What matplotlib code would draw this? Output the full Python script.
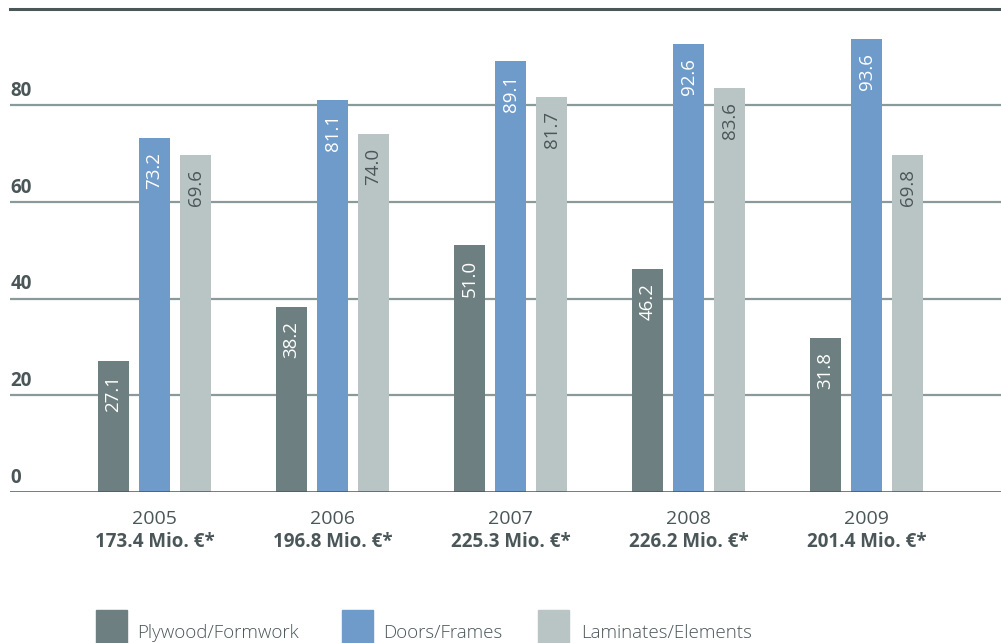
import matplotlib.pyplot as plt
from matplotlib.patches import Rectangle

years = ["2005", "2006", "2007", "2008", "2009"]
totals = ["173.4 Mio. €*", "196.8 Mio. €*", "225.3 Mio. €*", "226.2 Mio. €*", "201.4 Mio. €*"]
plywood = [27.1, 38.2, 51.0, 46.2, 31.8]
doors = [73.2, 81.1, 89.1, 92.6, 93.6]
laminates = [69.6, 74.0, 81.7, 83.6, 69.8]
series_names = ["Plywood/Formwork", "Doors/Frames", "Laminates/Elements"]
yticks = [0, 20, 40, 60, 80]

colors = ["#6d7f80", "#6e9bca", "#b9c5c5"]
label_colors = ["white", "white", "#4a5658"]
dark = "#4a5658"
grid = "#8a9a9a"

plt.rcParams['font.family'] = ['Open Sans', 'DejaVu Sans']

W, H = 1001, 643
fig = plt.figure(figsize=(W / 100, H / 100), dpi=100)
ax = fig.add_axes([10 / W, 1 - 492 / H, 1 - 10 / W, (492 - 8.5) / H])

step = 178.0
width = 31 / step
offset = 41 / step
ax.set_xlim(-(154.5 - 10) / step, (W - 154.5) / step)
ax.set_ylim(0, 100)

for v in [20, 40, 60, 80]:
    ax.axhline(v, color=grid, lw=1.6, zorder=0)
ax.axhline(0, color=dark, lw=1.8, zorder=3)
ax.axhline(100, color=dark, lw=2.2, zorder=3, clip_on=False)

for k, vals in enumerate([plywood, doors, laminates]):
    xs = [i + (k - 1) * offset for i in range(len(years))]
    ax.bar(xs, vals, width=width, color=colors[k], zorder=2)
    for x, v in zip(xs, vals):
        ax.text(x, v - 2.9, f"{v:.1f}", rotation=90, ha="center", va="top",
                color=label_colors[k], fontsize=13.5, zorder=4)

for v in yticks:
    ax.text(-(154.5 - 10) / step + 0.003, v + 1.9, str(v), ha="left", va="baseline",
            color=dark, fontsize=13.5, fontweight="bold")

for i, (yr, tot) in enumerate(zip(years, totals)):
    ax.text(i, -5.5, yr, ha="center", va="center", color=dark, fontsize=14)
    ax.text(i, -10.4, tot, ha="center", va="center", color=dark, fontsize=13.5,
            fontweight="bold")

ax.axis("off")

# legend
patch_x = [96, 342, 538]
text_x = [137, 383, 581]
for px, tx, c, name in zip(patch_x, text_x, colors, series_names):
    fig.patches.append(Rectangle((px / W, 0), 31 / W, 33 / H, color=c,
                                 transform=fig.transFigure, figure=fig))
    fig.text(tx / W, 1 - 633 / H, name, ha="left", va="center", color=dark,
             fontsize=13.5, fontweight="light")

fig.savefig("out.png", dpi=100)
